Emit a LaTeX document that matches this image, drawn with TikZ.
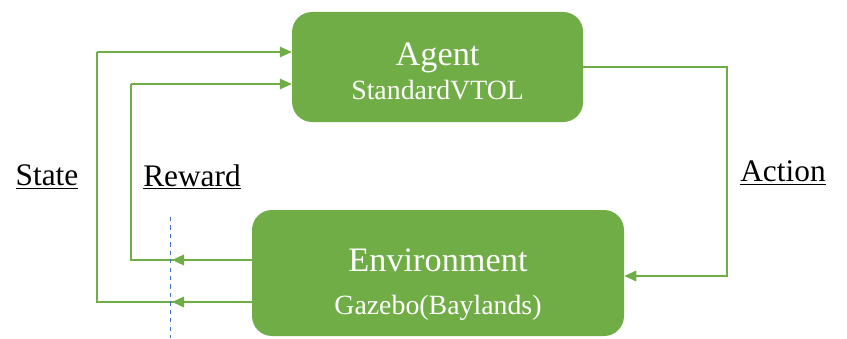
\documentclass[tikz,border=0pt]{standalone}
\usepackage{fontspec}
\setmainfont{Liberation Serif}
\usetikzlibrary{arrows.meta}
\definecolor{rlgreen}{HTML}{70AD47}
\definecolor{rlblue}{HTML}{4472C4}
\tikzset{
	block/.style = {fill=rlgreen, rounded corners=0.5cm, text=white, align=center, inner sep=0pt},
	link/.style = {draw=rlgreen, line width=1.4pt},
	tag/.style = {font=\fontsize{22.3}{26}\selectfont}
}
\begin{document}
\begin{tikzpicture}[>={Triangle[length=0.3cm,width=0.26cm]}]
	\useasboundingbox (0,0) rectangle (21.175,8.45);
	
	\node[block, minimum width=7.275cm, minimum height=2.75cm](agent) at (10.94,6.775)
		{\fontsize{24.4}{28}\selectfont\rule{0pt}{22pt}Agent\\[4pt]\fontsize{19.8}{23}\selectfont StandardVTOL};
	\node[block, minimum width=9.3cm, minimum height=3.15cm](env) at (10.95,1.625)
		{\fontsize{24.4}{28}\selectfont\rule{0pt}{33pt}Environment\\[16pt]\fontsize{19.8}{24}\selectfont Gazebo(Baylands)};
	
	\coordinate[](actR) at (18.175,6.775);
	\coordinate[](actD) at (18.175,1.55);
	\coordinate[](rewE) at (env.west |- 0,1.95);
	\coordinate[](rewT) at (4.3,1.95);
	\coordinate[](rewL) at (3.275,1.95);
	\coordinate[](rewU) at (3.275,6.35);
	\coordinate[](staE) at (env.west |- 0,0.9);
	\coordinate[](staT) at (4.3,0.9);
	\coordinate[](staL) at (2.425,0.9);
	\coordinate[](staU) at (2.425,7.15);
	
	% action
	\draw[link, ->] (agent.east) -- (actR) -- (actD) -- (env.east |- actD);
	% reward
	\draw[link] (rewE) -- (rewL) -- (rewU);
	\draw[link, ->] (rewE) -- (rewT);
	\draw[link, ->] (rewU) -- (agent.west |- rewU);
	% state
	\draw[link] (staE) -- (staL) -- (staU);
	\draw[link, ->] (staE) -- (staT);
	\draw[link, ->] (staU) -- (agent.west |- staU);
	
	\coordinate[](cutT) at (4.25,3.025);
	\coordinate[](cutB) at (4.25,0);
	\draw[rlblue, dashed, thin] (cutT) -- (cutB);
	
	\node[tag](state) at (1.175,4.025) {\underline{State}};
	\node[tag](reward) at (4.8,4.025) {\underline{Reward}};
	\node[tag](action) at (19.575,4.125) {\underline{Action}};
\end{tikzpicture}
\end{document}
